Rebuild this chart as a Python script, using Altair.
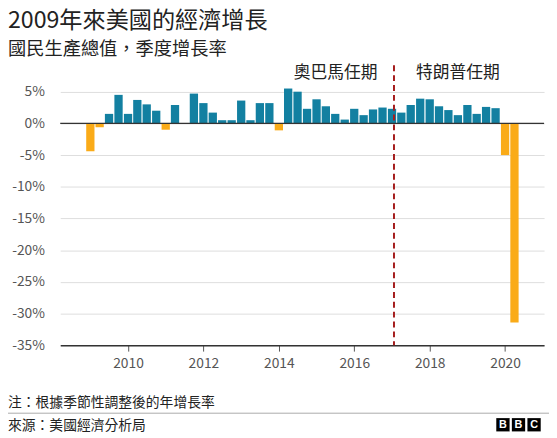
import altair as alt
import pandas as pd

# ---- data ----
quarters = [
    "2009-01-01", "2009-04-01", "2009-07-01", "2009-10-01",
    "2010-01-01", "2010-04-01", "2010-07-01", "2010-10-01",
    "2011-01-01", "2011-04-01", "2011-07-01", "2011-10-01",
    "2012-01-01", "2012-04-01", "2012-07-01", "2012-10-01",
    "2013-01-01", "2013-04-01", "2013-07-01", "2013-10-01",
    "2014-01-01", "2014-04-01", "2014-07-01", "2014-10-01",
    "2015-01-01", "2015-04-01", "2015-07-01", "2015-10-01",
    "2016-01-01", "2016-04-01", "2016-07-01", "2016-10-01",
    "2017-01-01", "2017-04-01", "2017-07-01", "2017-10-01",
    "2018-01-01", "2018-04-01", "2018-07-01", "2018-10-01",
    "2019-01-01", "2019-04-01", "2019-07-01", "2019-10-01",
    "2020-01-01", "2020-04-01",
]
growth = [
    -4.4, -0.6, 1.5, 4.5,
    1.5, 3.7, 3.0, 2.0,
    -1.0, 2.9, -0.1, 4.7,
    3.2, 1.7, 0.5, 0.5,
    3.6, 0.5, 3.2, 3.2,
    -1.1, 5.5, 5.0, 2.3,
    3.8, 2.7, 1.5, 0.6,
    2.3, 1.3, 2.2, 2.5,
    2.3, 1.7, 2.9, 3.9,
    3.8, 2.7, 2.1, 1.3,
    2.9, 1.5, 2.6, 2.4,
    -5.0, -31.4,
]
term_labels = ["奧巴馬任期", "特朗普任期"]
term_label_dates = ["2015-07-04", "2018-09-30"]
term_label_y = [7.9, 7.9]
trump_start = ["2017-01-20"]
y_ticks = [-35, -30, -25, -20, -15, -10, -5, 0, 5]
x_tick_years = [2010, 2012, 2014, 2016, 2018, 2020]

title_text = "2009年來美國的經濟增長"
subtitle_text = "國民生產總值，季度增長率"
note_text = "注：根據季節性調整後的年增長率"
source_text = "來源：美國經濟分析局"
logo_letters = ["B", "B", "C"]

df = pd.DataFrame({"date": quarters, "growth": growth})
df_terms = pd.DataFrame({"date": term_label_dates, "growth": term_label_y, "label": term_labels})
df_line = pd.DataFrame({"date": trump_start})
one = pd.DataFrame({"k": [0]})

BLUE = "#1380A1"
ORANGE = "#FAAB18"
FONT = "Noto Sans CJK TC"

W, H = 491, 284

xscale = alt.Scale(
    type="utc",
    domain=[alt.DateTime(year=2008, month=5, date=2, utc=True),
            alt.DateTime(year=2020, month=11, date=26, utc=True)],
    nice=False,
)
yscale = alt.Scale(domain=[-35, 9.16], nice=False)

xaxis = alt.Axis(
    values=[alt.DateTime(year=y, month=1, date=1, utc=True) for y in x_tick_years],
    format="%Y", grid=False, domain=True, domainColor="#333333", domainWidth=1.5,
    ticks=True, tickSize=6, tickColor="#555555", labelFontSize=14, labelColor="#555555",
    labelPadding=6, labelFont=FONT, title=None, labelOverlap=False,
)
yaxis = alt.Axis(
    values=y_ticks, labelExpr="datum.value + '%'", grid=True, gridColor="#dddddd",
    domain=False, ticks=False, labelPadding=16, labelFontSize=14, labelColor="#555555",
    labelFont=FONT, title=None, labelOverlap=False, tickCount=len(y_ticks),
)

bars = alt.Chart(df).mark_bar(size=8.4).encode(
    x=alt.X("date:T", scale=xscale, axis=xaxis),
    y=alt.Y("growth:Q", scale=yscale, axis=yaxis),
    color=alt.condition(alt.datum.growth < 0, alt.value(ORANGE), alt.value(BLUE)),
)

zero = alt.Chart(one).mark_rule(color="#333333", strokeWidth=1.5).encode(
    y=alt.value(0), y2=alt.value(0)
).transform_calculate(z="0")
zero = alt.Chart(pd.DataFrame({"growth": [0]})).mark_rule(color="#333333", strokeWidth=1.5).encode(
    y=alt.Y("growth:Q", scale=yscale, axis=yaxis)
)

vline = alt.Chart(df_line).mark_rule(color="#A51D1D", strokeWidth=2, strokeDash=[6, 4]).encode(
    x=alt.X("date:T", scale=xscale, axis=xaxis)
)

terms = alt.Chart(df_terms).mark_text(
    font=FONT, fontSize=17, color="#222222", baseline="middle", align="center"
).encode(
    x=alt.X("date:T", scale=xscale, axis=xaxis),
    y=alt.Y("growth:Q", scale=yscale, axis=yaxis),
    text="label:N",
)

def txt(text, x, y, size, color="#222222", weight="normal", align="left", font=FONT):
    return alt.Chart(one).mark_text(
        text=text, font=font, fontSize=size, color=color, fontWeight=weight,
        align=align, baseline="middle",
    ).encode(x=alt.value(x), y=alt.value(y))

title = txt(title_text, -53, -44.5, 23.5)
subtitle = txt(subtitle_text, -53, -16.5, 18.5)
note = txt(note_text, -53, 342.5, 14)
source = txt(source_text, -53, 366, 14)

sep = alt.Chart(one).mark_rule(color="#aaaaaa", strokeWidth=1).encode(
    x=alt.value(-53), x2=alt.value(496), y=alt.value(353)
)

logo_layers = []
bx0 = 442.5
bw = 13.5
gap = 2.3
for i, letter in enumerate(logo_letters):
    x0 = bx0 + i * (bw + gap)
    logo_layers.append(
        alt.Chart(one).mark_rect(color="#000000").encode(
            x=alt.value(x0), x2=alt.value(x0 + bw), y=alt.value(358), y2=alt.value(371.5)
        )
    )
    logo_layers.append(
        txt(letter, x0 + bw / 2, 365, 11, color="#ffffff", weight="bold", align="center",
            font="Liberation Sans")
    )

chart = alt.layer(
    bars, zero, vline, terms, title, subtitle, note, source, sep, *logo_layers
).properties(
    width=W, height=H, autosize="none",
    padding={"left": 53, "top": 55, "right": 5, "bottom": 91},
    background="#ffffff",
).configure_view(stroke=None).configure_axis(labelOverlap=False)

chart.save("out.html", embed_options={"renderer": "svg", "actions": False})
